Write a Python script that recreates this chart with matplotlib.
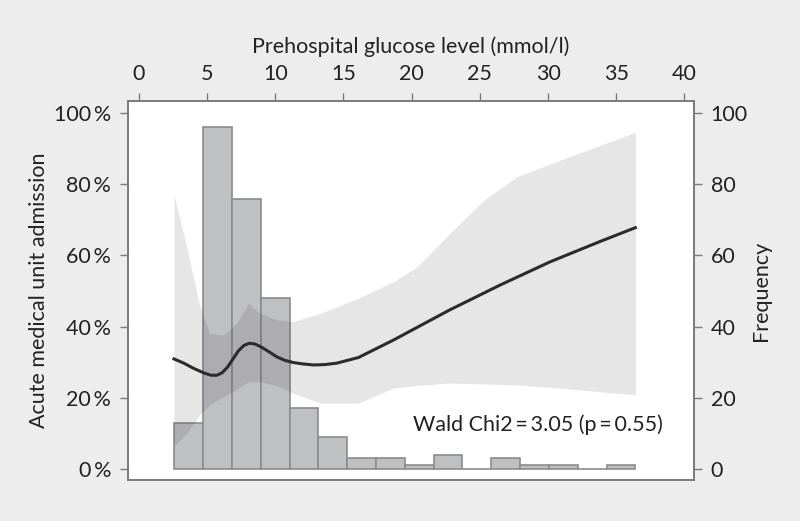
import numpy as np
import matplotlib
matplotlib.use("Agg")
import matplotlib.pyplot as plt

plt.rcParams['font.family'] = ['Lato', 'DejaVu Sans']

# histogram of prehospital glucose (frequency per bin)
bin_start = 2.59
bin_width = 2.113
freq = [13, 96, 76, 48, 17, 9, 3, 3, 1, 4, 0, 3, 1, 1, 0, 1]

# fitted probability of acute medical unit admission (%)
curve_x = [2.57, 3.3, 3.98, 4.8, 5.3, 5.7, 6.1, 6.5, 6.9, 7.3, 7.7, 8.1, 8.5, 8.9,
           9.5, 10.1, 10.7, 11.3, 12.0, 12.8, 13.6, 14.5, 16.1,
           18.66, 22.8, 26.5, 30.15, 33.8, 36.4]
curve_y = [30.9, 29.7, 28.3, 26.9, 26.3, 26.3, 27.0, 28.6, 30.9, 33.2, 34.7, 35.3, 35.1, 34.4,
           33.0, 31.5, 30.5, 29.9, 29.5, 29.2, 29.3, 29.7, 31.3,
           36.2, 44.7, 51.7, 58.2, 63.9, 67.8]

# confidence band (%)
band_x = [2.57, 3.5, 4.47, 5.2, 6.19, 7.17, 8.02, 8.9, 10.1, 11.3, 13.3, 16.1,
          18.66, 20.4, 22.8, 25.3, 27.7, 30.9, 36.4]
band_hi = [77.0, 62.4, 45.6, 38.1, 37.6, 40.9, 46.5, 43.7, 41.9, 41.4, 43.7, 48.0,
           52.6, 56.8, 66.2, 75.6, 82.1, 86.8, 94.6]
band_lo_x = [2.57, 3.5, 4.72, 5.7, 6.8, 8.02, 9.1, 10.35, 11.8, 13.3, 14.7, 16.1,
             18.66, 22.1, 27.7, 32.6, 36.4]
band_lo = [6.3, 10.0, 16.6, 19.4, 21.3, 24.5, 24.5, 23.1, 20.3, 18.5, 17.5, 18.5,
           22.7, 24.2, 23.6, 22.2, 20.8]

xticks = [0, 5, 10, 15, 20, 25, 30, 35, 40]
yticks = [0, 20, 40, 60, 80, 100]

fig = plt.figure(figsize=(8, 5.21), dpi=100, facecolor='#ededed')
ax = fig.add_axes([0.16, 0.079, 0.7075, 0.727])
ax.set_facecolor('white')

# histogram on the frequency axis (right side)
edges = bin_start + bin_width * np.arange(len(freq))
ax.bar(edges, freq, width=bin_width, align='edge', color='#bfc0c2',
       edgecolor='#8c8c8e', linewidth=1.2, zorder=2)

# fitted curve on the percentage axis (left side), drawn on top
axp = ax.twinx()
band_lo_i = np.interp(band_x, band_lo_x, band_lo)
axp.fill_between(band_x, band_lo_i, band_hi, color='#1c1c2a', alpha=0.11,
                 linewidth=0)
axp.plot(curve_x, curve_y, color='#2b2b2b', linewidth=2.2,
         solid_joinstyle='round')
axp.text(20.1, 12.4, 'Wald Chi2\u2009=\u20093.05 (p\u2009=\u20090.55)',
         fontsize=15.5, color='#222222', va='center', ha='left')

for a in (ax, axp):
    a.set_xlim(-0.8, 40.7)
    a.set_ylim(-3.1, 103.4)
    for s in a.spines.values():
        s.set_color('#7a7a7a')
        s.set_linewidth(1.2)

ax.xaxis.tick_top()
ax.xaxis.set_label_position('top')
ax.set_xticks(xticks)
ax.set_xlabel('Prehospital glucose level (mmol/l)', fontsize=15.5, color='#222222',
              labelpad=8)
ax.yaxis.tick_right()
ax.yaxis.set_label_position('right')
ax.set_yticks(yticks)
ax.set_ylabel('Frequency', fontsize=15.5, color='#222222', labelpad=2)
ax.tick_params(axis='both', labelsize=15.5, colors='#7a7a7a', labelcolor='#222222',
               length=6, width=1, pad=6)

axp.yaxis.tick_left()
axp.yaxis.set_label_position('left')
axp.set_yticks(yticks)
axp.set_yticklabels([f'{v}\u2009%' for v in yticks])
axp.set_ylabel('Acute medical unit admission', fontsize=15.5, color='#222222',
               labelpad=4)
axp.tick_params(axis='y', labelsize=15.5, colors='#7a7a7a', labelcolor='#222222',
                length=6, width=1, pad=6)

fig.savefig('out.png', dpi=100, facecolor=fig.get_facecolor())
